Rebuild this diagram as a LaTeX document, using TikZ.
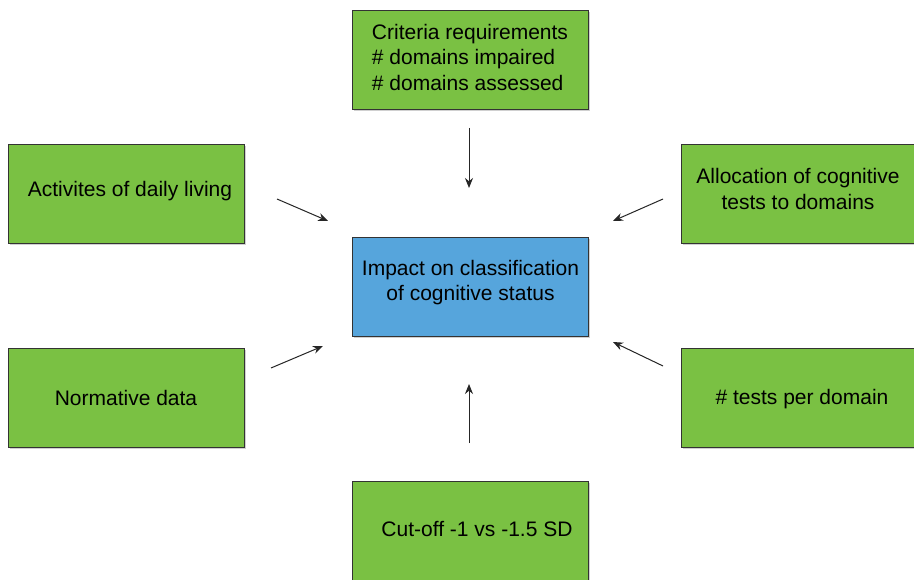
\documentclass[tikz,border=0pt]{standalone}
\usepackage{fontspec}
\setmainfont{Liberation Sans}
\usetikzlibrary{arrows.meta,shadows}
\definecolor{boxgreen}{HTML}{7AC143}
\definecolor{boxblue}{HTML}{56A5DC}
\definecolor{boxedge}{HTML}{333333}
\tikzset{
  factor/.style={draw=boxedge, line width=0.9pt, fill=boxgreen,
    drop shadow={shadow xshift=1.8pt, shadow yshift=-1.8pt, opacity=0.3, fill=black!60},
    minimum width=236pt, minimum height=99pt, inner sep=0pt},
  outcome/.style={factor, fill=boxblue},
  caption/.style={inner sep=0pt, align=center, font=\fontsize{21}{25.5}\selectfont},
  link/.style={line width=1pt, draw=black!85, -{Stealth[length=10pt,width=8pt]}}
}
\begin{document}
\begin{tikzpicture}[x=1pt,y=-1pt]
  \useasboundingbox[fill=white] (0,0) rectangle (914,580);

  % boxes
  \node[factor]  (crit)   at (470,60)    {};
  \node[factor]  (adl)    at (126,193.5) {};
  \node[factor, minimum width=234pt] (alloc) at (798,193.5) {};
  \node[outcome] (impact) at (470.5,286.5) {};
  \node[factor]  (norm)   at (126,397.5) {};
  \node[factor, minimum width=234pt] (tests) at (798,397.5) {};
  \node[factor]  (cut)    at (470,530.5) {};

  % box texts
  \node[caption, align=left, yshift=3pt] at (crit)
    {Criteria requirements\\\# domains impaired\\\# domains assessed};
  \node[caption, yshift=2pt, xshift=4pt] at (adl) {Activites of daily living};
  \node[caption, yshift=4.5pt] at (alloc) {Allocation of cognitive\\tests to domains};
  \node[caption, yshift=4pt] at (impact) {Impact on classification\\of cognitive status};
  \node[caption] at (norm) {Normative data};
  \node[caption, yshift=-2pt, xshift=4pt] at (tests) {\# tests per domain};
  \node[caption, yshift=1pt, xshift=7pt] at (cut) {Cut-off -1 vs -1.5 SD};

  % arrow ends
  \coordinate (critA) at (469,128);  \coordinate (critB) at (469,188);
  \coordinate (adlA)  at (277,199);  \coordinate (adlB)  at (328,221);
  \coordinate (allA)  at (663,199);  \coordinate (allB)  at (613,221);
  \coordinate (normA) at (271,368);  \coordinate (normB) at (323,346);
  \coordinate (tstA)  at (663,366);  \coordinate (tstB)  at (613,342);
  \coordinate (cutA)  at (469,443);  \coordinate (cutB)  at (469,384);

  % arrows toward the centre
  \draw[link] (critA) -- (critB);
  \draw[link] (adlA)  -- (adlB);
  \draw[link] (allA)  -- (allB);
  \draw[link] (normA) -- (normB);
  \draw[link] (tstA)  -- (tstB);
  \draw[link] (cutA)  -- (cutB);
\end{tikzpicture}
\end{document}
